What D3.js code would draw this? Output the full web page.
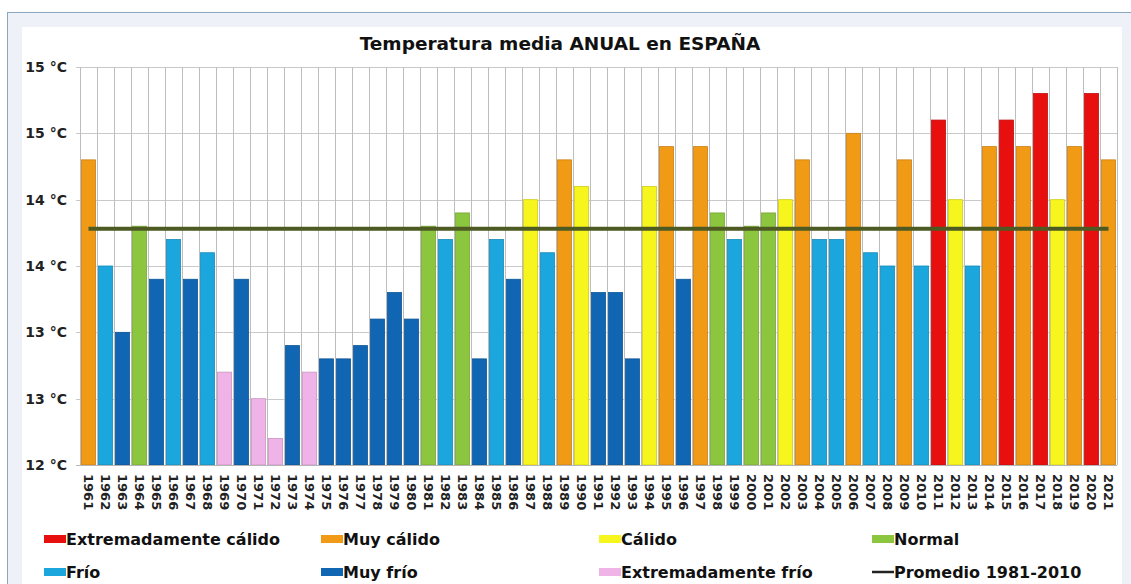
<!DOCTYPE html>
<html>
<head>
<meta charset="utf-8">
<script src="https://cdn.jsdelivr.net/npm/d3@7"></script>
<style>
  html, body { margin: 0; padding: 0; background: #ffffff; }
  svg { display: block; }
  text { font-family: "DejaVu Sans", Verdana, sans-serif; }
</style>
</head>
<body>
<svg id="chart" width="1131" height="584"></svg>
<script>
// Annual mean temperature in Spain, 1961-2021
const years = d3.range(1961, 2022);

const temps = [
  14.3, 13.5, 13.0, 13.8, 13.4, 13.7, 13.4, 13.6, 12.7, 13.4,
  12.5, 12.2, 12.9, 12.7, 12.8, 12.8, 12.9, 13.1, 13.3, 13.1,
  13.8, 13.7, 13.9, 12.8, 13.7, 13.4, 14.0, 13.6, 14.3, 14.1,
  13.3, 13.3, 12.8, 14.1, 14.4, 13.4, 14.4, 13.9, 13.7, 13.8,
  13.9, 14.0, 14.3, 13.7, 13.7, 14.5, 13.6, 13.5, 14.3, 13.5,
  14.6, 14.0, 13.5, 14.4, 14.6, 14.4, 14.8, 14.0, 14.4, 14.8,
  14.3
];

// Character of each year: EC extremely warm, MC very warm, C warm, N normal,
// F cold, MF very cold, EF extremely cold
const classes = [
  "MC", "F", "MF", "N", "MF", "F", "MF", "F", "EF", "MF",
  "EF", "EF", "MF", "EF", "MF", "MF", "MF", "MF", "MF", "MF",
  "N", "F", "N", "MF", "F", "MF", "C", "F", "MC", "C",
  "MF", "MF", "MF", "C", "MC", "MF", "MC", "N", "F", "N",
  "N", "C", "MC", "F", "F", "MC", "F", "F", "MC", "F",
  "EC", "C", "F", "MC", "EC", "MC", "EC", "C", "MC", "EC",
  "MC"
];

const classKeys   = ["EC", "MC", "C", "N", "F", "MF", "EF"];
const classNames  = ["Extremadamente cálido", "Muy cálido", "Cálido", "Normal",
                     "Frío", "Muy frío", "Extremadamente frío"];
const classColors = ["#e8100f", "#f09a16", "#f7f51e", "#8cc63f",
                     "#1ba6de", "#1066b2", "#efb3e8"];

const average = 13.78;           // Promedio 1981-2010
const averageLabel = "Promedio 1981-2010";

const yTicks = [12, 12.5, 13, 13.5, 14, 14.5, 15];
const title = "Temperatura media ANUAL en ESPAÑA";

const svg = d3.select("#chart");
const W = 1131, H = 584;
const plot = { left: 80, right: 1117, top: 67, bottom: 465 };

// frame
svg.append("rect").attr("x", 7.5).attr("y", 12.5).attr("width", W).attr("height", H)
  .attr("fill", "#eef2f8").attr("stroke", "#8aa6bf").attr("stroke-width", 1);
svg.append("rect").attr("x", 22).attr("y", 27).attr("width", 1100).attr("height", H)
  .attr("fill", "#ffffff");

const x = d3.scaleBand().domain(years).range([plot.left, plot.right]).padding(0);
const y = d3.scaleLinear().domain([12, 15]).range([plot.bottom, plot.top]);
const color = d3.scaleOrdinal().domain(classKeys).range(classColors);
const bw = x.bandwidth();

// horizontal grid + ticks
svg.append("g").selectAll("line").data(yTicks.filter(t => t > 12)).join("line")
  .attr("x1", plot.left - 4).attr("x2", plot.right)
  .attr("y1", d => Math.round(y(d)) + 0.5).attr("y2", d => Math.round(y(d)) + 0.5)
  .attr("stroke", "#c9c9c9").attr("stroke-width", 1);

// vertical grid at band boundaries
svg.append("g").selectAll("line").data(years.map(d => x(d)).concat([plot.right])).join("line")
  .attr("x1", d => Math.round(d) + 0.5).attr("x2", d => Math.round(d) + 0.5)
  .attr("y1", plot.top).attr("y2", plot.bottom)
  .attr("stroke", "#bdbdbd").attr("stroke-width", 1);

// bars
const data = years.map((yr, i) => ({ year: yr, value: temps[i], cls: classes[i] }));
svg.append("g").selectAll("rect").data(data).join("rect")
  .attr("x", d => x(d.year) + 1.5)
  .attr("width", bw - 3)
  .attr("y", d => y(d.value))
  .attr("height", d => y(12) - y(d.value))
  .attr("fill", d => color(d.cls))
  .attr("stroke", d => d3.color(color(d.cls)).darker(0.5))
  .attr("stroke-width", 0.8);

// baseline
svg.append("line").attr("x1", plot.left - 4).attr("x2", plot.right)
  .attr("y1", plot.bottom + 0.5).attr("y2", plot.bottom + 0.5)
  .attr("stroke", "#b5b5b5");

// average line
svg.append("line")
  .attr("x1", x(years[0]) + bw / 2).attr("x2", x(years[years.length - 1]) + bw / 2)
  .attr("y1", y(average)).attr("y2", y(average))
  .attr("stroke", "#4d5a22").attr("stroke-width", 4);

// y labels (whole degrees, as printed on the axis)
const fmt = d => Math.round(d + 1e-9) + " °C";
svg.append("g").selectAll("text").data(yTicks).join("text")
  .attr("x", 67).attr("y", d => y(d) + 5)
  .attr("text-anchor", "end").attr("font-size", 14).attr("font-weight", "bold")
  .attr("fill", "#222")
  .text(d => fmt(d));

// x labels (rotated)
svg.append("g").selectAll("text").data(years).join("text")
  .attr("transform", d => `translate(${x(d) + bw / 2 - 5},${plot.bottom + 9}) rotate(90)`)
  .attr("font-size", 13).attr("font-weight", "bold").attr("fill", "#222")
  .text(d => d);

// title
svg.append("text").attr("x", 560).attr("y", 50).attr("text-anchor", "middle")
  .attr("font-size", 18.5).attr("font-weight", "bold").attr("fill", "#111")
  .text(title);

// legend
const legendItems = classKeys.map((k, i) => ({ name: classNames[i], color: classColors[i], line: false }));
legendItems.push({ name: averageLabel, color: "#222", line: true });
const colX = [44, 321, 599, 872];
const lg = svg.append("g");
legendItems.forEach((item, j) => {
  const cx = colX[j % 4];
  const cy = j < 4 ? 539 : 572;
  if (item.line) {
    lg.append("line").attr("x1", cx).attr("x2", cx + 22).attr("y1", cy).attr("y2", cy)
      .attr("stroke", item.color).attr("stroke-width", 2.5);
  } else {
    lg.append("rect").attr("x", cx).attr("y", cy - 4).attr("width", 22).attr("height", 8)
      .attr("fill", item.color);
  }
  lg.append("text").attr("x", cx + 22).attr("y", cy + 6)
    .attr("font-family", "'DejaVu Sans Condensed', 'Liberation Sans Narrow', sans-serif")
    .attr("font-size", 16).attr("font-weight", "bold").attr("fill", "#111")
    .text(item.name);
});
</script>
</body>
</html>
